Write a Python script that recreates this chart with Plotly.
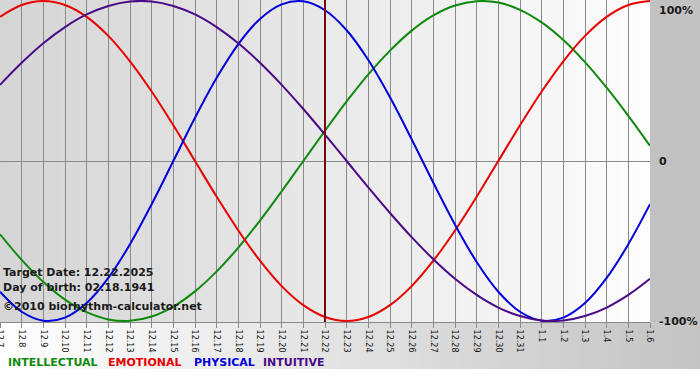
import plotly.graph_objects as go

# ---- data ----
dates = ["12.7", "12.8", "12.9", "12.10", "12.11", "12.12", "12.13", "12.14", "12.15",
         "12.16", "12.17", "12.18", "12.19", "12.20", "12.21", "12.22", "12.23", "12.24",
         "12.25", "12.26", "12.27", "12.28", "12.29", "12.30", "12.31", "1.1", "1.2",
         "1.3", "1.4", "1.5", "1.6"]

intellectual = [-0.458, -0.618, -0.756, -0.866, -0.945, -0.990, -0.999, -0.972, -0.910, -0.815,
                -0.690, -0.541, -0.372, -0.189, 0.000, 0.189, 0.372, 0.541, 0.690, 0.815,
                0.910, 0.972, 0.999, 0.990, 0.945, 0.866, 0.756, 0.618, 0.458, 0.282, 0.095]
emotional = [0.901, 0.975, 1.000, 0.975, 0.901, 0.782, 0.623, 0.434, 0.223, 0.000,
             -0.223, -0.434, -0.623, -0.782, -0.901, -0.975, -1.000, -0.975, -0.901, -0.782,
             -0.623, -0.434, -0.223, 0.000, 0.223, 0.434, 0.623, 0.782, 0.901, 0.975, 1.000]
physical = [-0.817, -0.942, -0.998, -0.979, -0.888, -0.731, -0.520, -0.270, 0.000, 0.270,
            0.520, 0.731, 0.888, 0.979, 0.998, 0.942, 0.817, 0.631, 0.398, 0.136,
            -0.136, -0.398, -0.631, -0.817, -0.942, -0.998, -0.979, -0.888, -0.731, -0.520, -0.270]
intuitive = [0.476, 0.614, 0.736, 0.837, 0.916, 0.969, 0.997, 0.997, 0.969, 0.916,
             0.837, 0.736, 0.614, 0.476, 0.325, 0.165, 0.000, -0.165, -0.325, -0.476,
             -0.614, -0.736, -0.837, -0.916, -0.969, -0.997, -0.997, -0.969, -0.916, -0.837, -0.736]

series_names = ["INTELLECTUAL", "EMOTIONAL", "PHYSICAL", "INTUITIVE"]
series_values = [intellectual, emotional, physical, intuitive]
series_colors = ["#0f8a0f", "#e80000", "#0000dd", "#4b0a87"]

target_label = "12.22"
info_lines = ["Target Date: 12.22.2025", "Day of birth: 02.18.1941",
              "\u00a92010 biorhythm-calculator.net"]
y_labels = ["100%", "0", "-100%"]
y_label_vals = [1, 0, -1]

# ---- layout geometry (pixels) ----
W, H = 700, 380
PLOT_W, PLOT_H = 650, 322
def px_x(p):
    return p / PLOT_W
def px_y(p):
    return (PLOT_H - p) / PLOT_H

x_idx = list(range(len(dates)))
fig = go.Figure()
for name, vals, col in zip(series_names, series_values, series_colors):
    fig.add_trace(go.Scatter(x=x_idx, y=vals, mode="lines", name=name,
                             line=dict(color=col, width=2, shape="spline", smoothing=1.0),
                             hoverinfo="skip"))

shapes = []
# plot-area horizontal gradient
N = 65
for i in range(N):
    t = i / (N - 1)
    c = int(round(0xd5 + (0xfd - 0xd5) * t))
    shapes.append(dict(type="rect", xref="paper", yref="paper",
                       x0=i / N, x1=(i + 1) / N + 0.002, y0=0, y1=1,
                       fillcolor=f"rgb({c},{c},{c})", line=dict(width=0), layer="below"))
# bottom strip gradient
M = 70
for i in range(M):
    t = i / (M - 1)
    c = int(round(0xff + (0xc4 - 0xff) * t))
    shapes.append(dict(type="rect", xref="paper", yref="paper",
                       x0=px_x(i * 10), x1=px_x((i + 1) * 10 + 0.5),
                       y0=px_y(369), y1=px_y(322),
                       fillcolor=f"rgb({c},{c},{c})", line=dict(width=0), layer="below"))
# right panel
shapes.append(dict(type="rect", xref="paper", yref="paper",
                   x0=1, x1=px_x(W), y0=0, y1=px_y(0),
                   fillcolor="#c2c2c2", line=dict(width=0), layer="below"))
# target date line
tx = dates.index(target_label)
shapes.append(dict(type="line", xref="x", yref="paper", x0=tx, x1=tx, y0=0, y1=1,
                   line=dict(color="#7a0a0a", width=2), layer="above"))

annotations = []
info_y = [272, 287, 306]
for txt, yp in zip(info_lines, info_y):
    annotations.append(dict(text=txt, xref="paper", yref="paper", x=px_x(1), y=px_y(yp),
                            xanchor="left", yanchor="middle", showarrow=False,
                            font=dict(family="DejaVu Sans", size=11, color="#1a1a1a",
                                      weight="bold")))
for txt, v in zip(y_labels, y_label_vals):
    ya = "middle"
    ys = 0
    if v == 1:
        ya, ys = "top", -1
    annotations.append(dict(text=txt, xref="paper", yref="y", x=px_x(657), y=v,
                            xanchor="left", yanchor=ya, yshift=ys, showarrow=False,
                            font=dict(family="DejaVu Sans", size=11, color="#1a1a1a",
                                      weight="bold")))
leg_x = [6, 106, 192, 261]
for name, col, lx in zip(series_names, series_colors, leg_x):
    annotations.append(dict(text=name, xref="paper", yref="paper", x=px_x(lx), y=px_y(362),
                            xanchor="left", yanchor="middle", showarrow=False,
                            font=dict(family="DejaVu Sans", size=11, color=col,
                                      weight="bold")))

fig.update_layout(
    width=W, height=H,
    margin=dict(l=0, r=W - PLOT_W, t=0, b=H - PLOT_H, pad=0),
    paper_bgcolor="#ffffff", plot_bgcolor="rgba(0,0,0,0)",
    showlegend=False,
    shapes=shapes, annotations=annotations,
    xaxis=dict(range=[0, len(dates) - 1], tickvals=x_idx, ticktext=dates,
               tickangle=90, showgrid=True, gridcolor="#8a8a8a", gridwidth=1,
               zeroline=False, showline=True, linecolor="#8a8a8a", linewidth=1,
               ticks="outside", ticklen=5, tickcolor="#8a8a8a", automargin=False,
               ticklabeloverflow="allow",
               tickfont=dict(family="DejaVu Sans", size=8, color="#111111"),
               fixedrange=True),
    yaxis=dict(range=[-1.00625, 1.00625], showgrid=False, showticklabels=False,
               zeroline=True, zerolinecolor="#8a8a8a", zerolinewidth=1,
               automargin=False, fixedrange=True),
)

fig.write_html("out.html", config={"displayModeBar": False},
               post_script="document.body.style.margin='0px';document.body.style.overflow='hidden';")
